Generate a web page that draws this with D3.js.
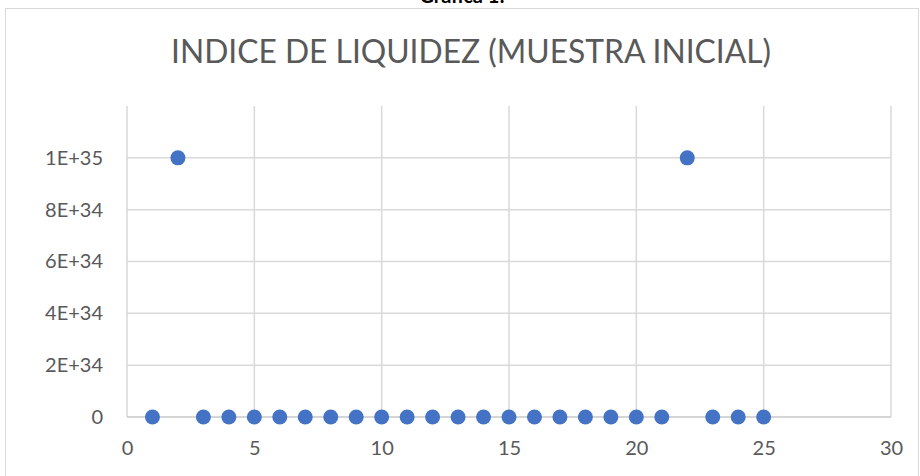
<!DOCTYPE html>
<html><head><meta charset="utf-8">
<script src="https://cdn.jsdelivr.net/npm/d3@7"></script>
<style>
html,body{margin:0;padding:0;background:#fff;}
svg{display:block;}
text{font-family:Lato,"Open Sans",sans-serif;fill:#595959;}
</style></head>
<body>
<svg id="chart" width="920" height="476"></svg>
<script>
const xValues = [1,2,3,4,5,6,7,8,9,10,11,12,13,14,15,16,17,18,19,20,21,22,23,24,25];
const yValues = [0,1e35,0,0,0,0,0,0,0,0,0,0,0,0,0,0,0,0,0,0,0,1e35,0,0,0];
const xTicks = [0,5,10,15,20,25,30];
const yTicks = [0,2e34,4e34,6e34,8e34,1e35];
const yTickLabels = ["0","2E+34","4E+34","6E+34","8E+34","1E+35"];
const chartTitle = "INDICE DE LIQUIDEZ (MUESTRA INICIAL)";
const captionTop = "Gráfica 1:";

const svg = d3.select("#chart");
const x = d3.scaleLinear().domain([0,30]).range([127,891]);
const y = d3.scaleLinear().domain([0,1.2e35]).range([417,106]);

// outer chart border
svg.append("rect").attr("x",5.5).attr("y",8.5).attr("width",913).attr("height",480)
  .attr("fill","#fff").attr("stroke","#d9d9d9").attr("stroke-width",1);

// caption above chart (cut off at the top edge, as in the reference)
svg.append("text").attr("x",462).attr("y",3).attr("text-anchor","middle")
  .style("font-family","Lato, sans-serif").style("font-weight","bold").style("font-size","20px")
  .style("fill","#000").text(captionTop);

// title
svg.append("text").attr("x",471).attr("y",63).attr("text-anchor","middle")
  .attr("textLength",600).attr("lengthAdjust","spacingAndGlyphs")
  .style("font-weight","400").style("font-size","32px").text(chartTitle);

const g = svg.append("g");
// horizontal gridlines
g.selectAll("line.h").data(yTicks).join("line").attr("class","h")
  .attr("x1",x(0)).attr("x2",x(30)).attr("y1",d=>y(d)).attr("y2",d=>y(d))
  .attr("stroke","#d9d9d9").attr("stroke-width",1.5);
// vertical gridlines
g.selectAll("line.v").data(xTicks).join("line").attr("class","v")
  .attr("x1",d=>x(d)).attr("x2",d=>x(d)).attr("y1",y(1.2e35)).attr("y2",y(0))
  .attr("stroke","#d9d9d9").attr("stroke-width",1.5);
// axis line
g.append("line").attr("x1",x(0)).attr("x2",x(30)).attr("y1",y(0)).attr("y2",y(0))
  .attr("stroke","#d0d0d0").attr("stroke-width",1.5);

// y axis labels
const yAxis = d3.axisLeft(y).tickValues(yTicks).tickSize(0).tickPadding(24)
  .tickFormat((d,i)=>yTickLabels[i]);
const ya = svg.append("g").attr("transform",`translate(${x(0)},0)`).call(yAxis);
ya.select(".domain").remove();
ya.selectAll("text").style("font-size","20px").style("fill","#595959").style("font-family","Lato, sans-serif");

// x axis labels
const xAxis = d3.axisBottom(x).tickValues(xTicks).tickSize(0).tickPadding(24);
const xa = svg.append("g").attr("transform",`translate(0,${y(0)})`).call(xAxis);
xa.select(".domain").remove();
xa.selectAll("text").style("font-size","20px").style("fill","#595959").style("font-family","Lato, sans-serif");

// points
svg.selectAll("circle.pt").data(xValues.map((v,i)=>[v,yValues[i]])).join("circle")
  .attr("class","pt").attr("cx",d=>x(d[0])).attr("cy",d=>y(d[1])).attr("r",7.5)
  .attr("fill","#4472c4");
</script>
</body></html>
